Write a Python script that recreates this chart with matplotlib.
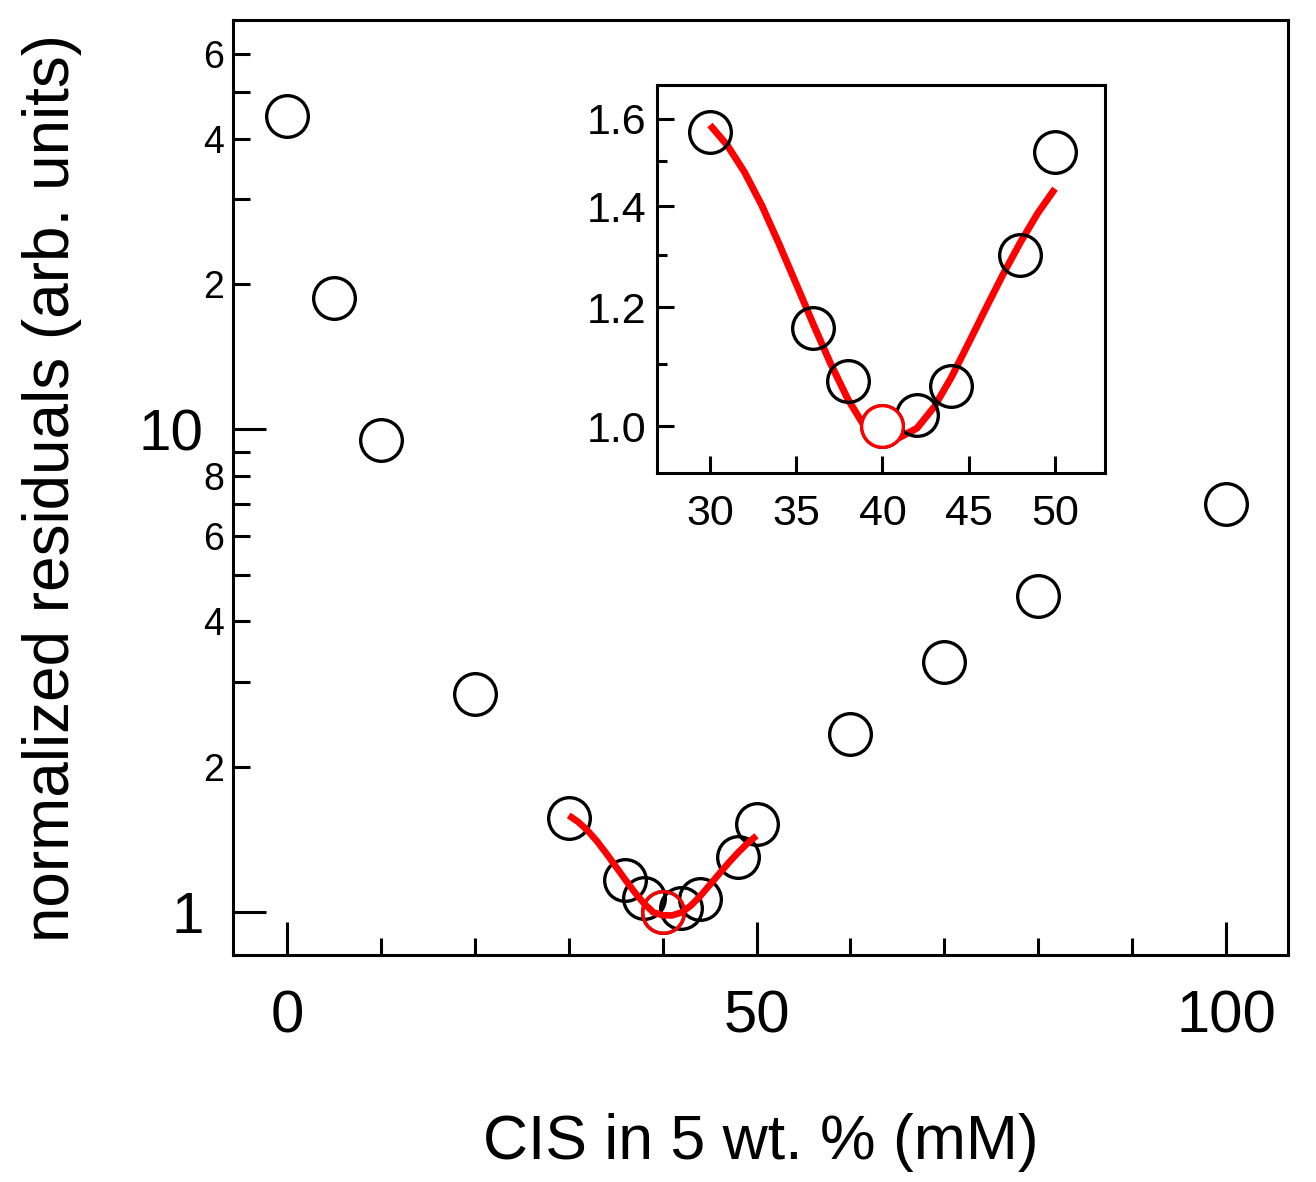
import numpy as np
import matplotlib
matplotlib.use("Agg")
import matplotlib.pyplot as plt
from matplotlib.ticker import FixedLocator, FixedFormatter, NullFormatter, NullLocator

plt.rcParams['font.family'] = ['Liberation Sans', 'DejaVu Sans']

# ---- data ----
cis = [0, 5, 10, 20, 30, 36, 38, 40, 42, 44, 48, 50, 60, 70, 80, 100]
resid = [44.6, 18.7, 9.53, 2.83, 1.568, 1.162, 1.071, 1.0, 1.018, 1.063, 1.299, 1.52,
         2.34, 3.30, 4.52, 6.99]
best_x = [40]
best_y = [1.0]

fit_x = [30, 31, 32, 33, 34, 35, 36, 37, 38, 39, 40, 41, 42, 43, 44, 45, 46, 47, 48, 49, 50]
fit_y = [1.585, 1.537, 1.475, 1.402, 1.322, 1.243, 1.168, 1.100, 1.042, 0.998, 0.984, 0.983,
         0.997, 1.030, 1.078, 1.136, 1.198, 1.262, 1.325, 1.385, 1.438]

inset_x = [30, 36, 38, 40, 42, 44, 48, 50]
inset_y = [1.568, 1.162, 1.071, 1.0, 1.018, 1.063, 1.299, 1.52]

main_major_y = [1, 10]
main_major_lbl = ["1", "10"]
main_minor_y = [2, 3, 4, 5, 6, 7, 8, 9, 20, 30, 40, 50, 60]
main_minor_lbl = ["2", "", "4", "", "6", "", "8", "", "2", "", "4", "", "6"]
main_major_x = [0, 50, 100]
main_minor_x = [10, 20, 30, 40, 60, 70, 80, 90]

in_major_x = [30, 35, 40, 45, 50]
in_major_y = [1.0, 1.2, 1.4, 1.6]
in_major_lbl = ["1.0", "1.2", "1.4", "1.6"]
in_minor_y = [1.1, 1.3, 1.5]

# ---- figure ----
W, H = 1316, 1182
fig = plt.figure(figsize=(W / 100, H / 100), dpi=100)

ax = fig.add_axes([233 / W, (H - 955) / H, (1288 - 233) / W, (955 - 20) / H])
ax.set_yscale('log')
ax.set_xlim(-5.75, 106.6)
ax.set_ylim(0.814, 70.6)

mk = dict(marker='o', ms=30, mew=2.4, mfc='none', ls='none')
ax.plot(cis, resid, mec='black', **mk, zorder=3)
ax.plot(fit_x, fit_y, color='red', lw=4.8, solid_capstyle='butt',
        solid_joinstyle='round', zorder=4)
ax.plot(best_x, best_y, mec='red', **mk, zorder=5)

ax.yaxis.set_major_locator(FixedLocator(main_major_y))
ax.yaxis.set_major_formatter(FixedFormatter(main_major_lbl))
ax.yaxis.set_minor_locator(FixedLocator(main_minor_y))
ax.yaxis.set_minor_formatter(FixedFormatter(main_minor_lbl))
ax.xaxis.set_major_locator(FixedLocator(main_major_x))
ax.xaxis.set_minor_locator(FixedLocator(main_minor_x))

for s in ax.spines.values():
    s.set_linewidth(2.2)
ax.tick_params(which='both', direction='in', width=2.2, top=False, right=False)
ax.tick_params(which='major', length=24)
ax.tick_params(which='minor', length=12)
ax.tick_params(axis='y', which='major', labelsize=42, pad=21)
ax.tick_params(axis='y', which='minor', labelsize=27, pad=6.5)
ax.tick_params(axis='x', which='major', labelsize=43, pad=25)

ax.set_xlabel("CIS in 5 wt. % (mM)", fontsize=45, labelpad=49)
ax.set_ylabel("normalized residuals (arb. units)", fontsize=46, labelpad=41)

# ---- inset ----
ia = fig.add_axes([657 / W, (H - 473) / H, (1105 - 657) / W, (473 - 85) / H])
ia.set_yscale('log')
ia.set_xlim(26.93, 52.9)
ia.set_ylim(0.931, 1.685)
ia.plot(fit_x, fit_y, color='red', lw=5, solid_capstyle='butt',
        solid_joinstyle='round', zorder=3)
ia.plot(inset_x, inset_y, mec='black', **mk, zorder=4)
ia.plot(best_x, best_y, mec='red', mew=2.4, ms=30, marker='o', mfc='white', ls='none', zorder=5)

ia.xaxis.set_major_locator(FixedLocator(in_major_x))
ia.xaxis.set_minor_locator(NullLocator())
ia.yaxis.set_major_locator(FixedLocator(in_major_y))
ia.yaxis.set_major_formatter(FixedFormatter(in_major_lbl))
ia.yaxis.set_minor_locator(FixedLocator(in_minor_y))
ia.yaxis.set_minor_formatter(NullFormatter())
for s in ia.spines.values():
    s.set_linewidth(2.2)
ia.tick_params(which='both', direction='in', width=2.2, top=False, right=False, labelsize=31)
ia.tick_params(which='major', length=12)
ia.tick_params(which='minor', length=7)
ia.tick_params(axis='y', pad=8)
ia.tick_params(axis='x', pad=15)

fig.savefig("out.png", dpi=100)
